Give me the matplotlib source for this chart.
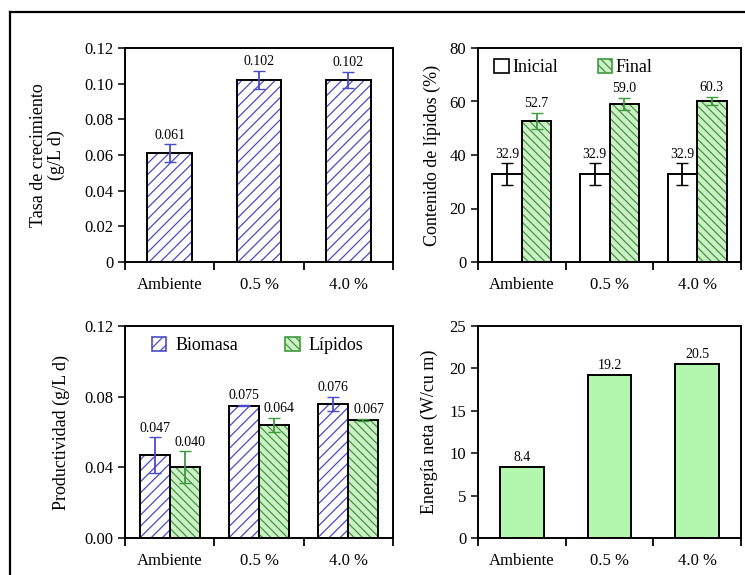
"""Four-panel bar figure: growth rate, lipid content, productivity and net energy
for ambient air vs. 0.5 % and 4.0 % CO2."""
import numpy as np
import matplotlib.pyplot as plt
from matplotlib.patches import Patch
from matplotlib.lines import Line2D

plt.rcParams['font.family'] = ['Liberation Serif', 'DejaVu Serif']
plt.rcParams['hatch.linewidth'] = 0.9

categories = ['Ambiente', '0.5 %', '4.0 %']

growth = [0.061, 0.102, 0.102]
growth_err = [0.005, 0.005, 0.0045]

lip_initial = [32.9, 32.9, 32.9]
lip_initial_err = [4.0, 4.0, 4.0]
lip_final = [52.7, 59.0, 60.3]
lip_final_err = [3.0, 2.3, 1.5]

prod_biomass = [0.047, 0.075, 0.076]
prod_biomass_err = [0.010, 0.0005, 0.004]
prod_lipid = [0.040, 0.064, 0.067]
prod_lipid_err = [0.009, 0.004, 0.0005]

energy = [8.4, 19.2, 20.5]

BLUE = '#4a4ac8'
GREEN = '#3f9a3f'
GREEN_FILL = '#cdf0c6'
ENERGY_FILL = '#b3f7ae'
BLUE_HATCH = '///'
GREEN_HATCH = '\\\\\\\\'

W, H = 745, 575
fig = plt.figure(figsize=(W / 100, H / 100), dpi=100)


def ax_at(x0, y0, x1, y1):
    return fig.add_axes([x0 / W, 1 - y1 / H, (x1 - x0) / W, (y1 - y0) / H])


def style(ax, ymax, yticks, yfmt, ylabel, labelpad):
    x = np.arange(len(categories))
    ax.set_xlim(-0.5, 2.5)
    ax.set_ylim(0, ymax)
    ax.set_xticks([-0.5, 0.5, 1.5, 2.5])
    ax.set_xticklabels([])
    ax.set_xticks(x, minor=True)
    ax.set_xticklabels(categories, minor=True)
    ax.tick_params(axis='x', which='major', direction='out', length=6, width=1.3)
    ax.tick_params(axis='x', which='minor', length=0, pad=11, labelsize=12)
    ax.set_yticks(yticks)
    ax.set_yticklabels([yfmt(v) for v in yticks])
    ax.tick_params(axis='y', direction='out', length=5, width=1.1, labelsize=12)
    for s in ax.spines.values():
        s.set_linewidth(1.4)
    ax.set_ylabel(ylabel, fontsize=13, labelpad=labelpad, linespacing=1.0)


def hatched_bars(ax, xs, vals, width, fill, hcolor, hatch):
    ax.bar(xs, vals, width, color=fill, edgecolor=hcolor, hatch=hatch, lw=0, zorder=2)
    ax.bar(xs, vals, width, fill=False, edgecolor='black', lw=1.4, zorder=3)


def labels(ax, xs, vals, tops, fmt, size=10, dx=0.0):
    for xi, v, t in zip(xs, vals, tops):
        ax.annotate(fmt.format(v), (xi + dx, t), xytext=(0, 2), textcoords='offset points',
                    ha='center', va='bottom', fontsize=size)


x = np.arange(len(categories))

# --- growth rate
ax1 = ax_at(125, 48, 393, 262)
hatched_bars(ax1, x, growth, 0.5, 'white', BLUE, BLUE_HATCH)
ax1.errorbar(x, growth, yerr=growth_err, fmt='none', ecolor=BLUE, capsize=4, lw=1.3, zorder=4)
labels(ax1, x, growth, np.add(growth, growth_err), '{:.3f}')
style(ax1, 0.12, [0, 0.02, 0.04, 0.06, 0.08, 0.10, 0.12],
      lambda v: '0' if v == 0 else f'{v:.2f}', 'Tasa de crecimiento\n(g/L d)', 14)

# --- lipid content
ax2 = ax_at(478, 48, 741, 262)
bw = 0.335
hatched_bars(ax2, x - bw / 2, lip_initial, bw, 'white', 'white', None)
hatched_bars(ax2, x + bw / 2, lip_final, bw, GREEN_FILL, GREEN, GREEN_HATCH)
ax2.errorbar(x - bw / 2, lip_initial, yerr=lip_initial_err, fmt='none', ecolor='black',
             capsize=4, lw=1.3, zorder=4)
ax2.errorbar(x + bw / 2, lip_final, yerr=lip_final_err, fmt='none', ecolor=GREEN,
             capsize=4, lw=1.3, zorder=4)
labels(ax2, x - bw / 2, lip_initial, np.add(lip_initial, lip_initial_err), '{:.1f}')
labels(ax2, x + bw / 2, lip_final, np.add(lip_final, lip_final_err), '{:.1f}')
style(ax2, 80, [0, 20, 40, 60, 80], lambda v: f'{v:d}', 'Contenido de lípidos (%)', 6)
ax2.legend(handles=[Patch(facecolor='white', edgecolor='black', lw=1.2),
                    Patch(facecolor=GREEN_FILL, edgecolor=GREEN, hatch=GREEN_HATCH, lw=1.2)],
           labels=['Inicial', 'Final'], loc='upper left', ncol=2, frameon=False,
           fontsize=13, handlelength=0.8, handleheight=0.8, handletextpad=0.2,
           columnspacing=2.2, borderaxespad=0.2, bbox_to_anchor=(0.02, 1.0))

# --- productivity
ax3 = ax_at(125, 326, 393, 538)
hatched_bars(ax3, x - bw / 2, prod_biomass, bw, 'white', BLUE, BLUE_HATCH)
hatched_bars(ax3, x + bw / 2, prod_lipid, bw, GREEN_FILL, GREEN, GREEN_HATCH)
ax3.errorbar(x - bw / 2, prod_biomass, yerr=prod_biomass_err, fmt='none', ecolor=BLUE,
             capsize=4, lw=1.3, zorder=4)
ax3.errorbar(x + bw / 2, prod_lipid, yerr=prod_lipid_err, fmt='none', ecolor=GREEN,
             capsize=4, lw=1.3, zorder=4)
labels(ax3, x - bw / 2, prod_biomass, np.add(prod_biomass, prod_biomass_err), '{:.3f}')
labels(ax3, x + bw / 2, prod_lipid, np.add(prod_lipid, prod_lipid_err), '{:.3f}', dx=0.06)
style(ax3, 0.12, [0, 0.04, 0.08, 0.12], lambda v: f'{v:.2f}', 'Productividad (g/L d)', 10)
ax3.legend(handles=[Patch(facecolor='white', edgecolor=BLUE, hatch=BLUE_HATCH, lw=1.2),
                    Patch(facecolor=GREEN_FILL, edgecolor=GREEN, hatch=GREEN_HATCH, lw=1.2)],
           labels=['Biomasa', 'Lípidos'], loc='upper left', ncol=2, frameon=False,
           fontsize=13, handlelength=0.8, handleheight=0.8, handletextpad=0.5,
           columnspacing=2.6, borderaxespad=0.2, bbox_to_anchor=(0.06, 1.0))

# --- net energy
ax4 = ax_at(478, 326, 741, 538)
ax4.bar(x, energy, 0.5, color=ENERGY_FILL, edgecolor='black', lw=1.4, zorder=2)
labels(ax4, x, energy, energy, '{:.1f}')
style(ax4, 25, [0, 5, 10, 15, 20, 25], lambda v: f'{v:d}', 'Energía neta (W/cu m)', 8)

# outer frame (left and top edges visible in the original)
fig.add_artist(Line2D([9.5 / W, 9.5 / W], [0, 1 - 12 / H], color='black', lw=1.6))
fig.add_artist(Line2D([9.5 / W, 1], [1 - 12 / H, 1 - 12 / H], color='black', lw=1.6))

fig.savefig('out.png', dpi=100)
